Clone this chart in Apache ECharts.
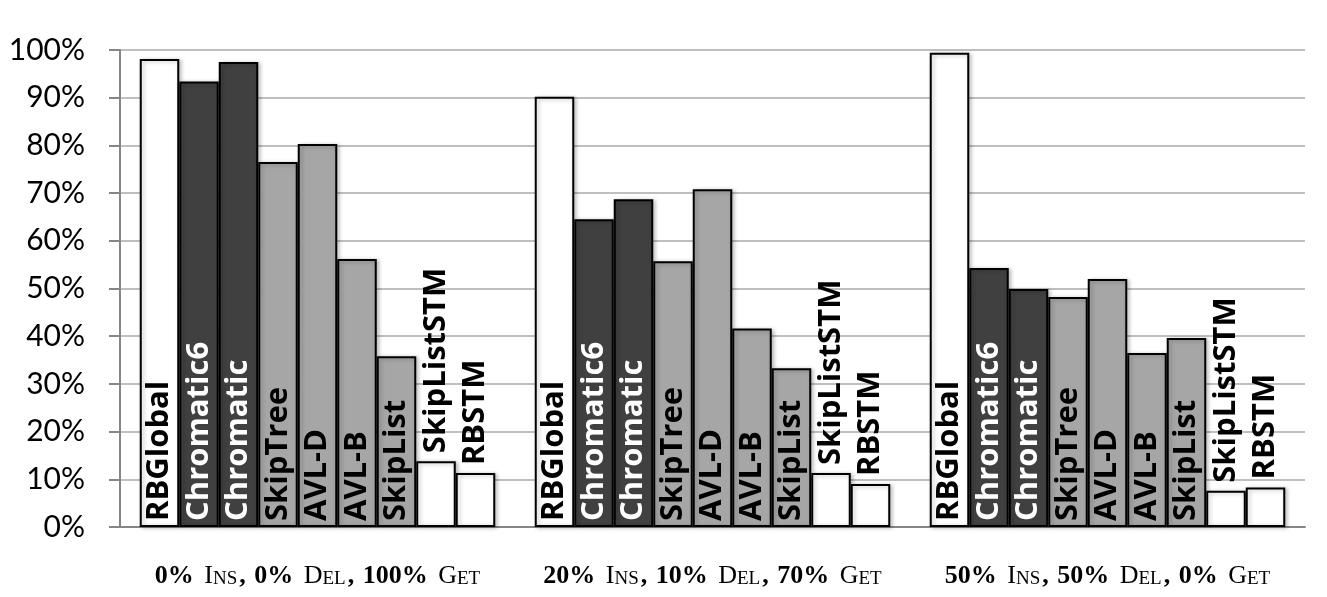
<!DOCTYPE html>
<html>
<head>
<meta charset="utf-8">
<script src="https://cdn.jsdelivr.net/npm/echarts@6/dist/echarts.min.js"></script>
<style>html,body{margin:0;padding:0;background:#fff;}#c{width:1327px;height:597px;}</style>
</head>
<body>
<div id="c"></div>
<script>
var categories = ['0% Ins, 0% Del, 100% Get', '20% Ins, 10% Del, 70% Get', '50% Ins, 50% Del, 0% Get'];
var seriesNames = ['RBGlobal', 'Chromatic6', 'Chromatic', 'SkipTree', 'AVL-D', 'AVL-B', 'SkipList', 'SkipListSTM', 'RBSTM'];
var RBGlobal    = [98.1, 90.2, 99.4];
var Chromatic6  = [93.4, 64.5, 54.3];
var Chromatic   = [97.5, 68.7, 49.9];
var SkipTree    = [76.5, 55.7, 48.2];
var AVLD        = [80.3, 70.8, 52.0];
var AVLB        = [56.2, 41.6, 36.5];
var SkipList    = [35.8, 33.3, 39.6];
var SkipListSTM = [13.8, 11.3, 7.6];
var RBSTM       = [11.3, 9.0, 8.3];
var yTicks = [0, 10, 20, 30, 40, 50, 60, 70, 80, 90, 100];

var values = [RBGlobal, Chromatic6, Chromatic, SkipTree, AVLD, AVLB, SkipList, SkipListSTM, RBSTM];
var fills = ['#ffffff', '#404040', '#404040', '#a6a6a6', '#a6a6a6', '#a6a6a6', '#a6a6a6', '#ffffff', '#ffffff'];
var textColors = ['#000', '#fff', '#fff', '#000', '#000', '#000', '#000', '#000', '#000'];
var outside = [false, false, false, false, false, false, false, true, true];

function fmtCat(v) {
  var tokens = v.match(/\d+%|[A-Za-z]+|[^A-Za-z\d%]+/g);
  return tokens.map(function (t) {
    if (/^\d+%$/.test(t)) return '{b|' + t + '}';
    if (/^[A-Za-z]+$/.test(t)) return '{c|' + t[0] + '}{s|' + t.slice(1).toUpperCase() + '}';
    return '{p|' + t + '}';
  }).join('');
}

var series = seriesNames.map(function (name, i) {
  return {
    name: name,
    type: 'bar',
    data: values[i],
    barGap: '0%',
    barCategoryGap: '10%',
    itemStyle: {
      color: fills[i],
      borderColor: '#000',
      borderWidth: 2,
      shadowBlur: 4,
      shadowColor: 'rgba(0,0,0,0.25)',
      shadowOffsetX: 2,
      shadowOffsetY: 1
    },
    label: {
      show: true,
      formatter: name,
      position: outside[i] ? 'top' : 'insideBottom',
      distance: outside[i] ? 8 : 6,
      rotate: 90,
      align: 'left',
      verticalAlign: 'middle',
      color: textColors[i],
      fontFamily: 'Open Sans',
      fontWeight: 'bold',
      fontSize: 31
    }
  };
});

var chart = echarts.init(document.getElementById('c'), null, { renderer: 'canvas' });
chart.setOption({
  animation: false,
  backgroundColor: '#fff',
  grid: { left: 120, right: 22, top: 50, bottom: 70, containLabel: false },
  xAxis: {
    type: 'category',
    data: categories,
    axisLine: { lineStyle: { color: '#868686', width: 2 } },
    axisTick: { show: false },
    axisLabel: {
      interval: 0,
      hideOverlap: false,
      margin: 34,
      formatter: fmtCat,
      rich: {
        b: { fontFamily: 'Liberation Serif', fontWeight: 'bold', fontSize: 26, color: '#000', verticalAlign: 'bottom', lineHeight: 28 },
        p: { fontFamily: 'Liberation Serif', fontWeight: 'bold', fontSize: 26, color: '#000', verticalAlign: 'bottom', lineHeight: 28, padding: [0, 2, 0, 2] },
        c: { fontFamily: 'Liberation Serif', fontSize: 26, color: '#000', verticalAlign: 'bottom', lineHeight: 28 },
        s: { fontFamily: 'Liberation Serif', fontSize: 19, color: '#000', verticalAlign: 'bottom', lineHeight: 24 }
      }
    }
  },
  yAxis: {
    type: 'value',
    min: 0,
    max: 100,
    interval: 10,
    axisLine: { show: true, lineStyle: { color: '#868686', width: 2 } },
    axisTick: { show: true, length: 11, lineStyle: { color: '#868686', width: 2 } },
    splitLine: { show: true, lineStyle: { color: '#bfbfbf', width: 2 } },
    axisLabel: {
      margin: 35,
      color: '#000',
      fontFamily: 'Lato',
      fontSize: 30,
      formatter: function (v) { return yTicks.indexOf(v) >= 0 ? v + '%' : ''; }
    }
  },
  series: series
});
</script>
</body>
</html>
